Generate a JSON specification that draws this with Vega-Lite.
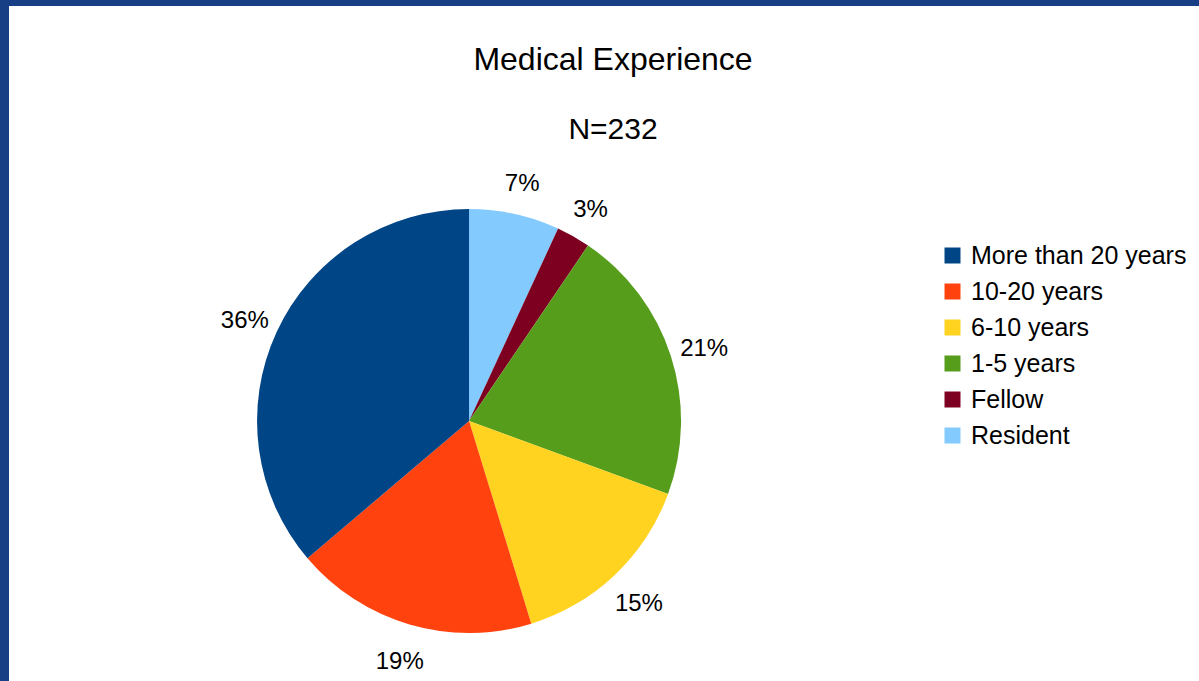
{
  "$schema": "https://vega.github.io/schema/vega-lite/v6.json",
  "autosize": {"type": "fit", "contains": "padding"},
  "width": 1199,
  "height": 681,
  "padding": {"left": 9, "top": 6, "right": 0, "bottom": 0},
  "background": "#163f86",
  "view": {"fill": "white", "stroke": null},
  "config": {
    "view": {"fill": "white", "stroke": null},
    "font": "Liberation Sans"
  },
  "title": {
    "text": "Medical Experience",
    "subtitle": "N=232",
    "fontSize": 32,
    "fontWeight": "normal",
    "color": "black",
    "subtitleFontSize": 30,
    "subtitleColor": "black",
    "subtitlePadding": 38,
    "anchor": "middle",
    "frame": "group",
    "offset": -140,
    "dx": 9,
    "font": "Liberation Sans",
    "subtitleFont": "Liberation Sans"
  },
  "data": {
    "values": [
      {"group": "Resident", "count": 16, "ord": 1},
      {"group": "Fellow", "count": 6, "ord": 2},
      {"group": "1-5 years", "count": 49, "ord": 3},
      {"group": "6-10 years", "count": 34, "ord": 4},
      {"group": "10-20 years", "count": 43, "ord": 5},
      {"group": "More than 20 years", "count": 84, "ord": 6}
    ]
  },
  "transform": [
    {"joinaggregate": [{"op": "sum", "field": "count", "as": "total"}]},
    {"calculate": "datum.count / datum.total", "as": "pct"}
  ],
  "encoding": {
    "theta": {"field": "count", "type": "quantitative", "stack": true},
    "order": {"field": "ord", "type": "quantitative"},
    "color": {
      "field": "group",
      "type": "nominal",
      "scale": {
        "domain": ["More than 20 years", "10-20 years", "6-10 years", "1-5 years", "Fellow", "Resident"],
        "range": ["#004586", "#ff420e", "#ffd320", "#579d1c", "#7e0021", "#83caff"]
      },
      "legend": {
        "title": null,
        "orient": "none",
        "legendX": 931,
        "legendY": 237,
        "symbolType": "square",
        "symbolSize": 256,
        "symbolStrokeWidth": 0,
        "labelFontSize": 25,
        "labelFont": "Liberation Sans",
        "labelColor": "black",
        "labelOffset": 6,
        "rowPadding": 10,
        "labelLimit": 400
      }
    }
  },
  "layer": [
    {
      "mark": {"type": "arc", "outerRadius": 212, "x": {"expr": "width * 0.3866"}, "y": {"expr": "height * 0.6148"}}
    },
    {
      "mark": {"type": "text", "radius": 247, "dy": 4, "fontSize": 24, "font": "Liberation Sans", "color": "black", "x": {"expr": "width * 0.3866"}, "y": {"expr": "height * 0.6148"}},
      "encoding": {
        "text": {"field": "pct", "type": "quantitative", "format": ".0%"},
        "color": {"value": "black"}
      }
    }
  ]
}
